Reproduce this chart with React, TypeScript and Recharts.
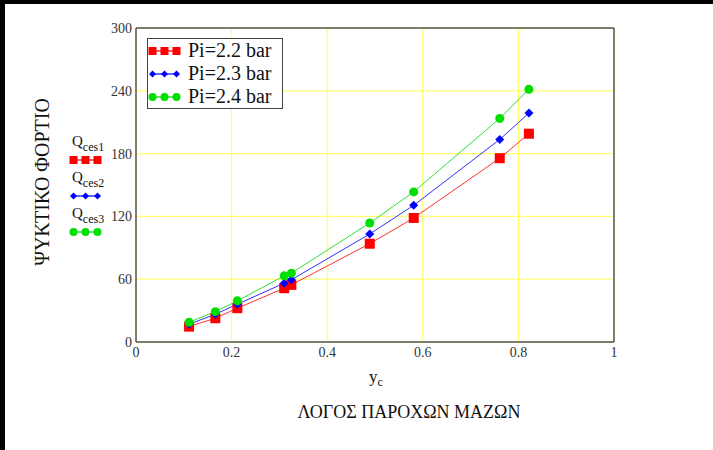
import React from "react";
import {
  CartesianGrid,
  Legend,
  Line,
  LineChart,
  ReferenceLine,
  XAxis,
  YAxis,
} from "recharts";

// mass flow ratio y_c and cooling load for three inlet pressures
const massRatio = [0.111, 0.166, 0.212, 0.31, 0.325, 0.489, 0.581, 0.761, 0.822];
const qCes1 = [14.7, 22.7, 32.3, 51.4, 54.6, 93.9, 118.5, 175.6, 199.0];
const qCes2 = [17.0, 26.5, 36.1, 56.2, 59.4, 103.2, 130.6, 193.5, 218.7];
const qCes3 = [18.9, 29.0, 39.3, 63.2, 65.8, 113.7, 143.4, 213.6, 241.4];
const pressureNames = ["Pi=2.2 bar", "Pi=2.3 bar", "Pi=2.4 bar"];
const traceNames = ["ces1", "ces2", "ces3"];
const xTicks = [0, 0.2, 0.4, 0.6, 0.8, 1];
const yTicks = [0, 60, 120, 180, 240, 300];

const data = massRatio.map((yc, i) => ({
  yc,
  q1: qCes1[i],
  q2: qCes2[i],
  q3: qCes3[i],
}));

type Shape = "square" | "diamond" | "circle";

const series: { key: string; color: string; line: string; shape: Shape }[] = [
  { key: "q1", color: "#ff0000", line: "#ff3030", shape: "square" },
  { key: "q2", color: "#0000ff", line: "#3030ff", shape: "diamond" },
  { key: "q3", color: "#00e000", line: "#30e030", shape: "circle" },
];

const serif = "'Liberation Serif', 'Times New Roman', serif";

const Marker = ({
  shape,
  cx,
  cy,
  color,
  size,
}: {
  shape: Shape;
  cx: number;
  cy: number;
  color: string;
  size: number;
}) => {
  const h = size / 2;
  if (shape === "square")
    return <rect x={cx - h} y={cy - h} width={size} height={size} fill={color} />;
  if (shape === "diamond")
    return (
      <polygon
        points={`${cx},${cy - h} ${cx + h},${cy} ${cx},${cy + h} ${cx - h},${cy}`}
        fill={color}
      />
    );
  return <circle cx={cx} cy={cy} r={h} fill={color} />;
};

const dotSize: Record<Shape, number> = { square: 10, diamond: 9, circle: 9 };
const keySize: Record<Shape, number> = { square: 8, diamond: 7, circle: 8 };

// line + three markers, as used in both keys
const TraceKey = ({ s, width }: { s: (typeof series)[number]; width: number }) => (
  <svg width={width} height={14} style={{ display: "block" }}>
    <line x1={4} y1={7} x2={29} y2={7} stroke={s.line} strokeWidth={1.5} />
    {[4.5, 16.5, 28.5].map((x) => (
      <Marker key={x} shape={s.shape} cx={x} cy={7} color={s.color} size={keySize[s.shape]} />
    ))}
  </svg>
);

const LegendBox = () => (
  <div
    style={{
      border: "1.5px solid #444",
      background: "#fff",
      padding: "0 10px 0 0",
      fontFamily: serif,
      fontSize: 20,
      lineHeight: "23px",
      color: "#111",
    }}
  >
    {series.map((s, i) => (
      <div key={s.key} style={{ display: "flex", alignItems: "center" }}>
        <TraceKey s={s} width={40} />
        <span>{pressureNames[i]}</span>
      </div>
    ))}
  </div>
);

const YTitle = (props: any) => {
  const { x, y, height } = props.viewBox;
  const cy = y + height / 2 - 3;
  return (
    <g fontFamily={serif}>
      <text
        x={x + 42}
        y={cy}
        transform={`rotate(-90 ${x + 42} ${cy})`}
        textAnchor="middle"
        dominantBaseline="central"
        fontSize={20}
        fill="#111"
      >
        ΨΥΚΤΙΚΟ ΦΟΡΤΙΟ
      </text>
      {series.map((s, i) => (
        <g key={s.key} transform={`translate(${x + 69}, ${y + 118 + i * 36})`}>
          <text x={3} y={0} fontSize={15} fill="#111">
            Q
            <tspan fontSize={12} dy={5}>
              {traceNames[i]}
            </tspan>
          </text>
          <foreignObject x={0} y={7} width={40} height={14}>
            <TraceKey s={s} width={40} />
          </foreignObject>
        </g>
      ))}
    </g>
  );
};

const XTitle = (props: any) => {
  const { x, y, width } = props.viewBox;
  const cx = x + width / 2;
  return (
    <g fontFamily={serif} fill="#111">
      <text x={cx - 6} y={y + 40} fontSize={17}>
        y<tspan fontSize={12} dy={4}>c</tspan>
      </text>
      <text x={cx + 34} y={y + 76} textAnchor="middle" fontSize={18}>
        ΛΟΓΟΣ ΠΑΡΟΧΩΝ ΜΑΖΩΝ
      </text>
    </g>
  );
};

const tickStyle = { fontFamily: serif, fontSize: 14, fill: "#333" };

export default function App() {
  return (
    <div
      style={{
        position: "absolute",
        left: 0,
        top: 0,
        width: 713,
        height: 450,
        background: "#fff",
        overflow: "hidden",
      }}
    >
      <LineChart
        width={713}
        height={450}
        data={data}
        margin={{ top: 28, right: 99, bottom: 78, left: 0 }}
      >
        <CartesianGrid stroke="#ffff70" strokeWidth={1.2} />
        <XAxis
          dataKey="yc"
          type="number"
          domain={[0, 1]}
          ticks={xTicks}
          tickFormatter={(v) => String(v)}
          height={30}
          tickSize={0}
          tickMargin={5}
          tick={tickStyle}
          axisLine={{ stroke: "#555", strokeWidth: 1.5 }}
          label={{ content: XTitle }}
        />
        <YAxis
          type="number"
          domain={[0, 300]}
          ticks={yTicks}
          width={136}
          tickSize={0}
          tickMargin={4}
          tick={tickStyle}
          axisLine={{ stroke: "#555", strokeWidth: 1.5 }}
          label={{ content: YTitle }}
        />
        <ReferenceLine y={300} stroke="#555" strokeWidth={1.5} />
        <ReferenceLine x={1} stroke="#555" strokeWidth={1.5} />
        <Legend
          layout="vertical"
          align="center"
          verticalAlign="middle"
          content={LegendBox}
          wrapperStyle={{ left: 147, top: 38, width: "auto" }}
        />
        {series.map((s, i) => (
          <Line
            key={s.key}
            type="linear"
            dataKey={s.key}
            name={pressureNames[i]}
            stroke={s.line}
            strokeWidth={1}
            isAnimationActive={false}
            dot={(p: any) => (
              <Marker
                key={`${s.key}-${p.index}`}
                shape={s.shape}
                cx={p.cx}
                cy={p.cy}
                color={s.color}
                size={dotSize[s.shape]}
              />
            )}
            activeDot={false}
          />
        ))}
      </LineChart>
      <div style={{ position: "absolute", left: 0, top: 0, width: 713, height: 4, background: "#000" }} />
      <div style={{ position: "absolute", left: 0, top: 0, width: 5, height: 450, background: "#000" }} />
    </div>
  );
}
